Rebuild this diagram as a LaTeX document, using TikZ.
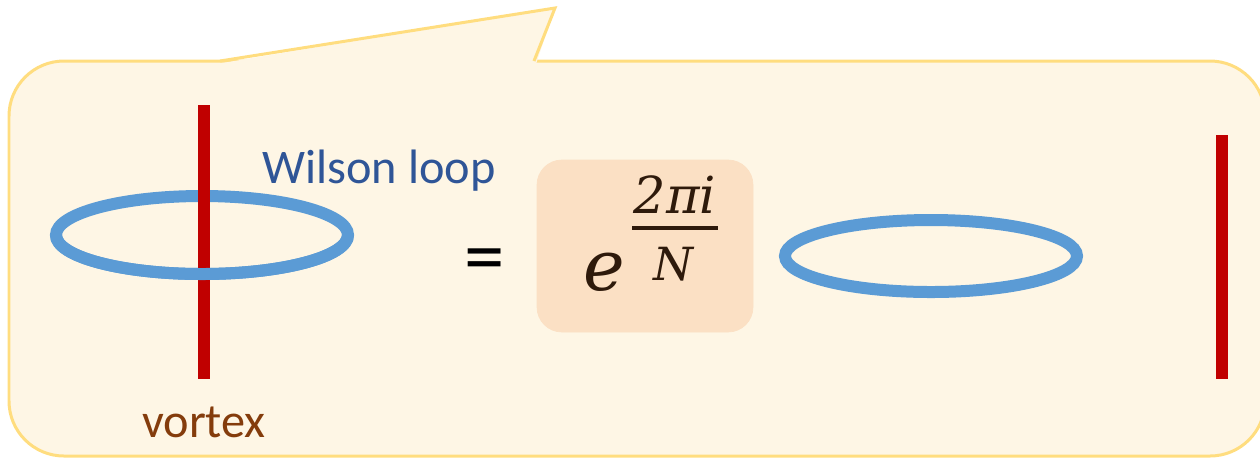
\documentclass[tikz,border=0pt]{standalone}
\usepackage{fontspec}
\setmainfont{Carlito}
\newfontfamily\phasefont{DejaVu Serif}
\definecolor{callfill}{HTML}{FEF6E5}
\definecolor{callline}{HTML}{FFDD7F}
\definecolor{vortexred}{HTML}{C00000}
\definecolor{loopblue}{HTML}{5B9BD5}
\definecolor{wilsonblue}{HTML}{2F5597}
\definecolor{vortexbrown}{HTML}{843C0C}
\definecolor{phasefill}{HTML}{FBE0C4}
\definecolor{phaseink}{HTML}{2E1A0B}
\tikzset{
	vortexline/.style = {vortexred, line width = 0.24cm},
	loopline/.style = {loopblue, line width = 0.24cm},
	label/.style = {font = \fontsize{27.5}{32}\selectfont, inner sep = 0pt},
	phase/.style = {phaseink, inner sep = 0pt, anchor = base},
}
\begin{document}
\begin{tikzpicture}[x = 0.02cm, y = -0.02cm]
	\useasboundingbox (0,0) rectangle (1260,458);
	% speech bubble
	\draw [callline, fill = callfill, line width = 0.06cm, rounded corners = 1.1cm]
	(9,61) rectangle (1265,456);
	\fill [callfill] (216,64) -- (555,8) -- (536,64) -- cycle;
	\draw [callline, line width = 0.06cm, line join = miter] (220,61) -- (555,8) -- (534,61);
	% left: vortex through the loop
	\coordinate (vtop) at (204,105);
	\coordinate (vbot) at (204,379);
	\draw [loopline] (202,235) ellipse (146 and 39);
	\draw [vortexline] (vtop) -- (vbot);
	\draw [loopline] (56,235) arc [start angle = 180, end angle = 0, x radius = 146, y radius = 39];
	\node [label, wilsonblue, anchor = west] (wilson) at (262,171) {Wilson loop};
	\node [label, vortexbrown] (vortex) at (204,422) {vortex};
	% equals and phase
	\node [font = \fontsize{46}{50}\selectfont, inner sep = 0pt] (equals) at (485,266) {=};
	\draw [phasefill, fill = phasefill, rounded corners = 0.5cm] (537,160) rectangle (753,332);
	\node [phase, font = \phasefont\itshape\fontsize{40}{44}\selectfont] (expe) at (604,290) {e};
	\node [phase, font = \phasefont\itshape\fontsize{29}{34}\selectfont] (num) at (675,213) {2πi};
	\node [phase, font = \phasefont\itshape\fontsize{26}{30}\selectfont] (den) at (673,280) {N};
	\coordinate (barl) at (632,228);
	\coordinate (barr) at (718,228);
	\draw [phaseink, line width = 0.08cm] (barl) -- (barr);
	% right: loop and vortex apart
	\draw [loopline] (931,256) ellipse (146 and 36);
	\coordinate (rtop) at (1222,135);
	\coordinate (rbot) at (1222,379);
	\draw [vortexline] (rtop) -- (rbot);
\end{tikzpicture}
\end{document}
